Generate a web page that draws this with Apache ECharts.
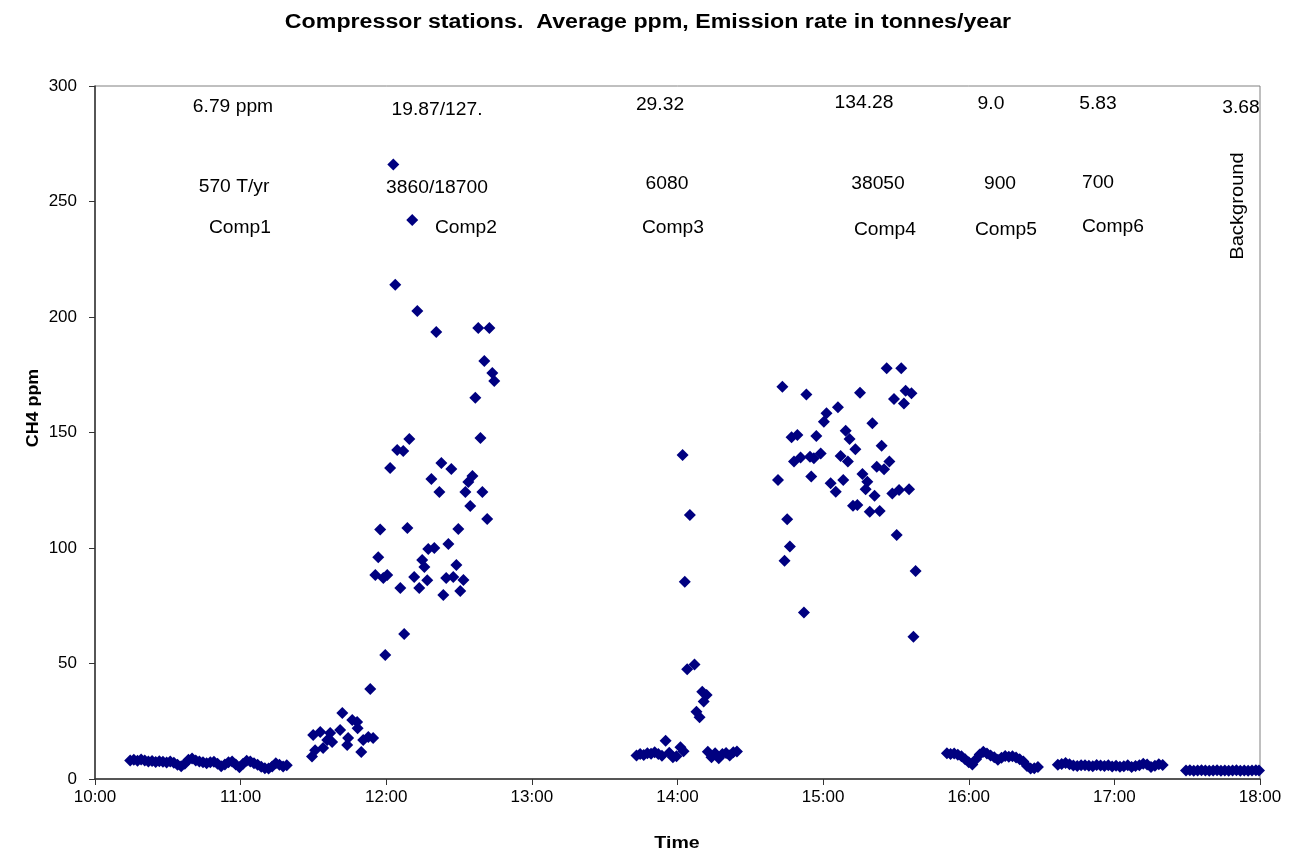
<!DOCTYPE html>
<html>
<head>
<meta charset="utf-8">
<script src="https://cdn.jsdelivr.net/npm/echarts@6/dist/echarts.min.js"></script>
<style>html,body{margin:0;padding:0;background:#fff}#c{width:1296px;height:852px}</style>
</head>
<body>
<div id="c"></div>
<script>
// Time in minutes since midnight, CH4 in ppm
const comp1Time = [614.5,616.0,617.5,619.0,620.5,622.0,623.5,625.0,626.5,628.0,629.5,631.0,632.5,634.0,635.5,637.0,638.5,640.0,641.5,643.0,644.5,646.0,647.5,649.0,650.5,652.0,653.5,655.0,656.5,658.0,659.5,661.0,662.5,664.0,665.5,667.0,668.5,670.0,671.5,673.0,674.5,676.0,677.5,679.0];
const comp1Ppm  = [8.0,8.3,7.9,8.4,8.0,7.6,7.8,7.4,7.7,7.5,7.1,7.6,7.0,6.2,5.5,6.6,8.3,8.9,8.0,7.6,7.2,6.8,7.3,7.5,6.6,5.5,6.3,7.2,7.6,6.3,5.1,6.6,7.9,7.6,6.8,6.2,5.3,4.7,4.5,5.4,6.8,6.2,5.4,5.9];

const comp2Time = [689.4,690.7,689.9,692.8,694.0,695.7,696.9,697.7,701.0,701.9,703.9,704.3,706.0,708.0,708.2,709.7,710.5,712.6,714.6,713.4,715.5,716.7,717.5,718.8,719.6,720.4,721.6,722.9,723.7,724.5,725.8,727.0,727.4,728.7,729.5,730.7,731.5,732.8,733.6,734.8,735.7,736.9,737.3,738.6,739.8,740.6,741.9,742.7,743.5,744.7,745.6,746.8,747.6,748.9,749.7,750.5,751.8,752.6,753.8,754.6,755.5,756.7,757.9,758.8,759.6,760.4,761.6,762.5,763.7,764.5];
const comp2Ppm  = [9.7,12.5,19.0,20.4,13.4,16.9,19.9,16.0,21.2,28.6,14.7,17.7,25.5,24.7,22.0,11.7,16.9,18.2,17.7,39.0,88.3,96.0,108.0,87.0,53.7,88.3,134.6,266.0,214.0,142.4,82.7,142.0,62.8,108.7,147.2,242.0,87.5,202.6,82.7,94.8,91.8,86.0,99.6,129.9,100.0,193.5,124.2,136.8,79.7,87.0,101.7,134.2,87.4,92.6,108.2,81.4,86.1,124.2,128.6,118.2,131.2,165.0,195.2,147.6,124.2,181.0,112.6,195.2,175.8,172.3];

const comp3Time = [823.1,824.6,826.1,827.6,829.1,830.6,832.1,833.6,835.1,836.6,838.1,839.6,841.2,842.1,842.5,843.0,844.0,845.1,847.0,847.8,849.1,850.2,850.8,852.0,852.5,854.0,855.5,857.0,858.5,860.0,861.5,863.0,864.5];
const comp3Ppm  = [10.2,10.8,10.4,11.2,10.9,11.6,10.8,10.1,16.6,11.4,9.4,9.8,13.7,140.3,12.0,85.4,47.5,114.3,49.6,29.1,26.7,37.8,33.5,36.4,11.8,9.4,11.2,9.0,10.8,11.3,10.2,11.6,11.9];

const comp4Time = [881.4,883.2,884.1,885.2,886.3,887.0,888.0,889.4,890.7,892.1,893.1,894.6,895.1,896.2,897.2,899.0,900.3,901.4,903.1,905.2,906.1,907.2,908.3,909.3,910.2,910.9,912.3,913.3,914.1,915.2,916.2,917.5,918.2,919.2,920.3,921.2,922.1,923.3,924.1,925.1,926.2,927.3,928.5,929.2,930.3,931.3,932.2,933.3,934.0,935.4,936.4,937.2,938.1];
const comp4Ppm  = [129.4,169.8,94.5,112.5,100.6,147.9,137.4,148.9,139.2,72.1,166.5,139.5,130.9,138.8,148.5,140.9,154.7,158.3,128.0,124.4,160.9,139.8,129.4,150.8,137.4,147.2,118.3,142.7,118.6,167.2,132.0,125.4,128.7,115.7,154.0,122.6,135.2,116.0,144.3,134.1,177.8,137.4,123.6,164.5,105.6,125.1,177.8,162.6,168.1,125.4,167.0,61.6,90.0];

const comp5Time = [951.0,952.5,954.0,955.5,957.0,958.5,960.0,961.5,963.0,964.5,966.0,967.5,969.0,970.5,972.0,973.5,975.0,976.5,978.0,979.5,981.0,982.5,984.0,985.5,987.0,988.5];
const comp5Ppm  = [11.1,10.8,11.0,10.5,9.8,8.6,7.2,6.3,8.5,10.6,11.8,11.0,10.2,9.4,8.3,9.2,10.0,9.6,9.9,9.3,8.6,7.6,5.6,4.5,4.6,5.2];

const comp6Time = [996.7,998.3,999.9,1001.5,1003.1,1004.7,1006.3,1007.9,1009.5,1011.1,1012.7,1014.3,1015.9,1017.5,1019.1,1020.7,1022.3,1023.9,1025.5,1027.1,1028.7,1030.3,1031.9,1033.5,1035.1,1036.7,1038.3,1039.9];
const comp6Ppm  = [6.2,6.5,6.9,6.4,5.8,5.6,6.0,5.9,5.7,5.5,6.1,5.8,5.6,5.9,5.4,5.7,5.3,5.5,5.9,5.2,5.6,6.0,6.6,6.3,5.2,5.7,6.4,6.1];

const bgTime = [1049.5,1051.1,1052.7,1054.3,1055.9,1057.5,1059.1,1060.7,1062.3,1063.9,1065.5,1067.1,1068.7,1070.3,1071.9,1073.5,1075.1,1076.7,1078.3,1079.6];
const bgPpm  = [3.7,3.8,3.6,3.7,3.8,3.7,3.6,3.7,3.8,3.6,3.7,3.6,3.7,3.8,3.6,3.7,3.6,3.7,3.8,3.7];

const titleText = 'Compressor stations.  Average ppm, Emission rate in tonnes/year';
const yName = 'CH4 ppm';
const xName = 'Time';

// annotation texts: [text, centerX, centerY]
const notes = [
  ['6.79 ppm',233,107],['570 T/yr',234,187],['Comp1',240,228],
  ['19.87/127.',437,110],['3860/18700',437,188],['Comp2',466,228],
  ['29.32',660,105],['6080',667,184],['Comp3',673,228],
  ['134.28',864,103],['38050',878,184],['Comp4',885,230],
  ['9.0',991,104],['900',1000,184],['Comp5',1006,230],
  ['5.83',1098,104],['700',1098,183],['Comp6',1113,227],
  ['3.68',1241,108]
];

function zip(t,v){return t.map((x,i)=>[x,v[i]]);}
const allData = [].concat(zip(comp1Time,comp1Ppm),zip(comp2Time,comp2Ppm),zip(comp3Time,comp3Ppm),zip(comp4Time,comp4Ppm),zip(comp5Time,comp5Ppm),zip(comp6Time,comp6Ppm),zip(bgTime,bgPpm));

function fmt(m){const h=Math.floor(m/60),mm=Math.round(m%60);return h+':'+(mm<10?'0':'')+mm;}

const FONT = '"Liberation Sans", Arial, sans-serif';
const graphics = notes.map(n=>({type:'text',x:n[1],y:n[2],scaleX:1.07,style:{text:n[0],fill:'#000',font:'18px '+FONT,align:'center',verticalAlign:'middle'},z:10}));
graphics.push({type:'text',x:1238,y:206,rotation:Math.PI/2,scaleX:1.12,style:{text:'Background',fill:'#000',font:'18px '+FONT,align:'center',verticalAlign:'middle'},z:10});
graphics.push({type:'text',x:648,y:22,scaleX:1.16,style:{text:titleText,fill:'#000',font:'bold 20px '+FONT,align:'center',verticalAlign:'middle'},z:10});
graphics.push({type:'text',x:33,y:408,rotation:Math.PI/2,scaleX:1.05,style:{text:yName,fill:'#000',font:'bold 17px '+FONT,align:'center',verticalAlign:'middle'},z:10});
graphics.push({type:'text',x:677,y:843,scaleX:1.15,style:{text:xName,fill:'#000',font:'bold 17px '+FONT,align:'center',verticalAlign:'middle'},z:10});

const chart = echarts.init(document.getElementById('c'),null,{renderer:'canvas'});
chart.setOption({
  backgroundColor:'#fff',
  animation:false,
  grid:{left:95,right:36,top:86,bottom:73,show:true,borderColor:'#808080',borderWidth:1,backgroundColor:'#fff'},
  xAxis:{type:'value',min:600,max:1080,interval:60,
    axisLine:{onZero:false,lineStyle:{color:'#333',width:1.5}},axisTick:{show:true,length:6,lineStyle:{color:'#333'}},
    axisLabel:{formatter:fmt,fontFamily:FONT,fontSize:17,color:'#000',margin:10},splitLine:{show:false}},
  yAxis:{type:'value',min:0,max:300,interval:50,
    axisLine:{show:true,lineStyle:{color:'#333',width:1.5}},axisTick:{show:true,length:6,lineStyle:{color:'#333'}},
    axisLabel:{fontFamily:FONT,fontSize:17,color:'#000',margin:18},splitLine:{show:false}},
  series:[{type:'scatter',data:allData,symbol:'diamond',symbolSize:12,itemStyle:{color:'#000080',opacity:1}}],
  graphic:graphics
});
</script>
</body>
</html>
